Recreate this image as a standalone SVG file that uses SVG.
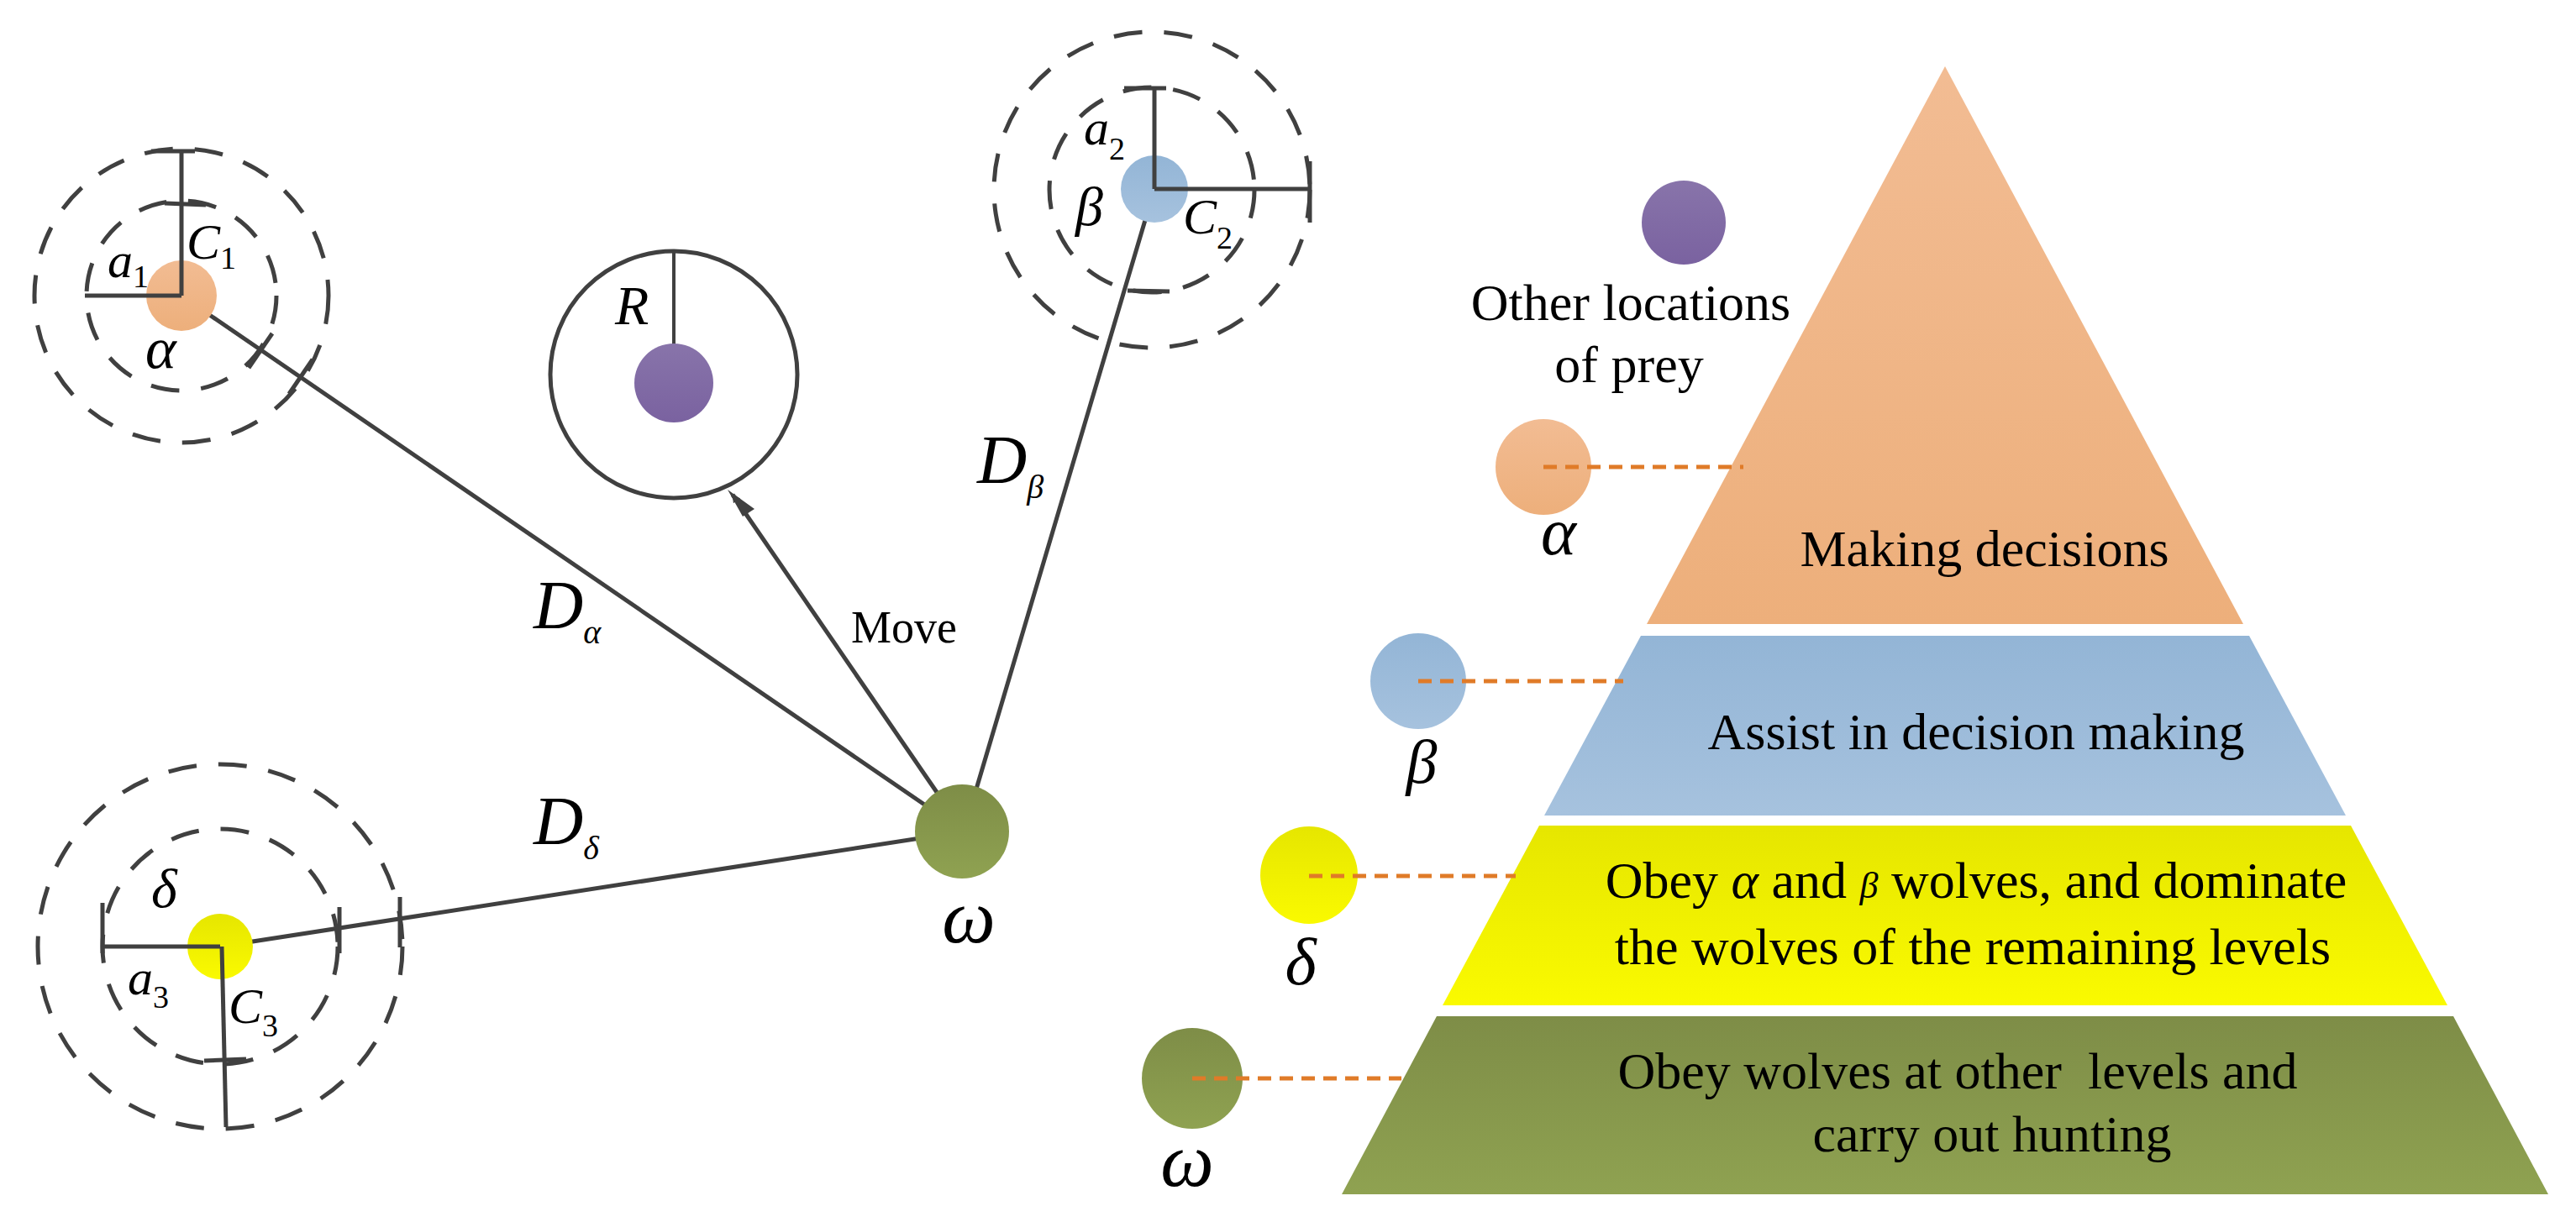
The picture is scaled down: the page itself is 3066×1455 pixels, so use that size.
<svg xmlns="http://www.w3.org/2000/svg" width="3066" height="1455" viewBox="0 0 3066 1455">
<defs>
<style>
.ln{stroke:#404040;stroke-width:5;fill:none}
.ds{stroke:#404040;stroke-width:5;fill:none;stroke-dasharray:34 26}
.od{stroke:#E07B28;stroke-width:5;stroke-dasharray:16 10;fill:none}
.t{font-family:"Liberation Serif",serif;fill:#000}
.i{font-family:"Liberation Serif",serif;font-style:italic;fill:#000}
</style>
<marker id="ah" markerWidth="10" markerHeight="10" refX="9" refY="5" orient="auto" markerUnits="userSpaceOnUse" viewBox="0 0 10 10">
<path d="M0,0 L10,5 L0,10 z" fill="#404040"/>
</marker>
<linearGradient id="gO" x1="0" y1="0" x2="0" y2="1"><stop offset="0" stop-color="#F2BC93"/><stop offset="1" stop-color="#EDAF7B"/></linearGradient>
<linearGradient id="gB" x1="0" y1="0" x2="0" y2="1"><stop offset="0" stop-color="#93B5D6"/><stop offset="1" stop-color="#A6C2DE"/></linearGradient>
<linearGradient id="gY" x1="0" y1="0" x2="0" y2="1"><stop offset="0" stop-color="#E6E600"/><stop offset="1" stop-color="#FAFA00"/></linearGradient>
<linearGradient id="gG" x1="0" y1="0" x2="0" y2="1"><stop offset="0" stop-color="#7E8D47"/><stop offset="1" stop-color="#8FA251"/></linearGradient>
<linearGradient id="gP" x1="0" y1="0" x2="0" y2="1"><stop offset="0" stop-color="#8874AA"/><stop offset="1" stop-color="#7A62A0"/></linearGradient>
</defs>
<rect width="3066" height="1455" fill="#fff"/>

<g id="connectors">
<line class="ln" x1="216" y1="352" x2="1147" y2="990"/>
<line class="ln" x1="296" y1="438" x2="324" y2="397"/>
<line class="ln" x1="344" y1="469" x2="372" y2="428"/>
<line class="ln" x1="262" y1="1127" x2="1147" y2="990"/>
<line class="ln" x1="404" y1="1080" x2="404" y2="1135"/>
<line class="ln" x1="476" y1="1068" x2="476" y2="1128"/>
<line class="ln" x1="1374" y1="225" x2="1147" y2="990"/>
<line class="ln" x1="1147" y1="990" x2="872" y2="589" marker-end="url(#ah)" style="stroke-width:5"/>
<path d="M866,583 L898,606 L884,615 z" fill="#404040"/>
</g>

<g id="alpha">
<circle cx="216" cy="352" r="175" class="ds"/>
<circle cx="216" cy="352" r="113" class="ds"/>
<circle cx="216" cy="352" r="42" fill="url(#gO)"/>
<line class="ln" x1="101" y1="352" x2="216" y2="352"/>
<line class="ln" x1="216" y1="352" x2="216" y2="179"/>
<line class="ln" x1="180" y1="180" x2="232" y2="180"/>
<line class="ln" x1="196" y1="242" x2="245" y2="244"/>
<text class="i" x="128" y="330" font-size="60">a<tspan font-size="38" font-style="normal" dy="12">1</tspan></text>
<text class="i" x="222" y="308" font-size="60">C<tspan font-size="38" font-style="normal" dy="12">1</tspan></text>
<text class="i" x="173" y="438" font-size="70">α</text>
</g>

<g id="prey">
<circle cx="802" cy="446" r="147" class="ln"/>
<line class="ln" x1="802" y1="300" x2="802" y2="420" style="stroke-width:4"/>
<circle cx="802" cy="456" r="47" fill="url(#gP)"/>
<text class="i" x="732" y="386" font-size="66">R</text>
</g>

<g id="beta">
<circle cx="1371" cy="226" r="188" class="ds"/>
<circle cx="1371" cy="226" r="122" class="ds"/>
<circle cx="1374" cy="225" r="40" fill="url(#gB)"/>
<line class="ln" x1="1374" y1="225" x2="1374" y2="104"/>
<line class="ln" x1="1338" y1="105" x2="1388" y2="105"/>
<line class="ln" x1="1374" y1="225" x2="1559" y2="225"/>
<line class="ln" x1="1559" y1="192" x2="1559" y2="265"/>
<line class="ln" x1="1342" y1="346" x2="1392" y2="347"/>
<text class="i" x="1290" y="172" font-size="60">a<tspan font-size="38" font-style="normal" dy="18">2</tspan></text>
<text class="i" x="1280" y="268" font-size="66">β</text>
<text class="i" x="1408" y="278" font-size="60">C<tspan font-size="38" font-style="normal" dy="18">2</tspan></text>
</g>

<g id="delta">
<circle cx="262" cy="1127" r="217" class="ds"/>
<circle cx="262" cy="1127" r="140" class="ds"/>
<circle cx="262" cy="1127" r="39" fill="url(#gY)"/>
<line class="ln" x1="122" y1="1127" x2="262" y2="1127"/>
<line class="ln" x1="122" y1="1075" x2="122" y2="1135"/>
<line class="ln" x1="264" y1="1127" x2="269" y2="1342"/>
<line class="ln" x1="243" y1="1263" x2="293" y2="1261"/>
<text class="i" x="180" y="1080" font-size="66">δ</text>
<text class="i" x="152" y="1184" font-size="60">a<tspan font-size="38" font-style="normal" dy="16">3</tspan></text>
<text class="i" x="272" y="1218" font-size="60">C<tspan font-size="38" font-style="normal" dy="16">3</tspan></text>
</g>

<g id="omega">
<circle cx="1145" cy="990" r="56" fill="url(#gG)"/>
<text class="i" x="1153" y="1122" font-size="90" text-anchor="middle">ω</text>
</g>

<g id="labels">
<text class="i" x="635" y="748" font-size="82">D<tspan font-size="40" dy="18">α</tspan></text>
<text class="i" x="1163" y="575" font-size="82">D<tspan font-size="40" dy="18">β</tspan></text>
<text class="i" x="635" y="1005" font-size="82">D<tspan font-size="40" dy="18">δ</tspan></text>
<text class="t" x="1076" y="765" font-size="54" text-anchor="middle">Move</text>
</g>

<g id="pyramid">
<polygon points="2315,79 2670,743 1960,743" fill="url(#gO)"/>
<polygon points="1953,757 2677,757 2792,971 1838,971" fill="url(#gB)"/>
<polygon points="1832,983 2798,983 2913,1197 1717,1197" fill="url(#gY)"/>
<polygon points="1710,1210 2920,1210 3033,1422 1597,1422" fill="url(#gG)"/>
<text class="t" x="2362" y="674" font-size="62" text-anchor="middle">Making decisions</text>
<text class="t" x="2352" y="892" font-size="62" text-anchor="middle">Assist in decision making</text>
<text class="t" x="2352" y="1069" font-size="62" text-anchor="middle">Obey <tspan font-style="italic">α</tspan> and <tspan font-style="italic" font-size="44">β</tspan> wolves, and dominate</text>
<text class="t" x="2348" y="1148" font-size="62" text-anchor="middle">the wolves of the remaining levels</text>
<text class="t" x="2330" y="1296" font-size="62" text-anchor="middle" xml:space="preserve">Obey wolves at other  levels and</text>
<text class="t" x="2371" y="1371" font-size="62" text-anchor="middle">carry out hunting</text>
</g>

<g id="legend">
<circle cx="2004" cy="265" r="50" fill="url(#gP)"/>
<text class="t" x="1941" y="381" font-size="62" text-anchor="middle">Other locations</text>
<text class="t" x="1939" y="455" font-size="62" text-anchor="middle">of prey</text>
<circle cx="1837" cy="556" r="57" fill="url(#gO)"/>
<line class="od" x1="1837" y1="556" x2="2075" y2="556"/>
<text class="i" x="1855" y="660" font-size="80" text-anchor="middle">α</text>
<circle cx="1688" cy="811" r="57" fill="url(#gB)"/>
<line class="od" x1="1688" y1="811" x2="1932" y2="811"/>
<text class="i" x="1692" y="932" font-size="74" text-anchor="middle">β</text>
<circle cx="1558" cy="1042" r="58" fill="url(#gY)"/>
<line class="od" x1="1558" y1="1043" x2="1804" y2="1043"/>
<text class="i" x="1548" y="1172" font-size="80" text-anchor="middle">δ</text>
<circle cx="1419" cy="1284" r="60" fill="url(#gG)"/>
<line class="od" x1="1419" y1="1284" x2="1668" y2="1284"/>
<text class="i" x="1413" y="1412" font-size="90" text-anchor="middle">ω</text>
</g>
</svg>
